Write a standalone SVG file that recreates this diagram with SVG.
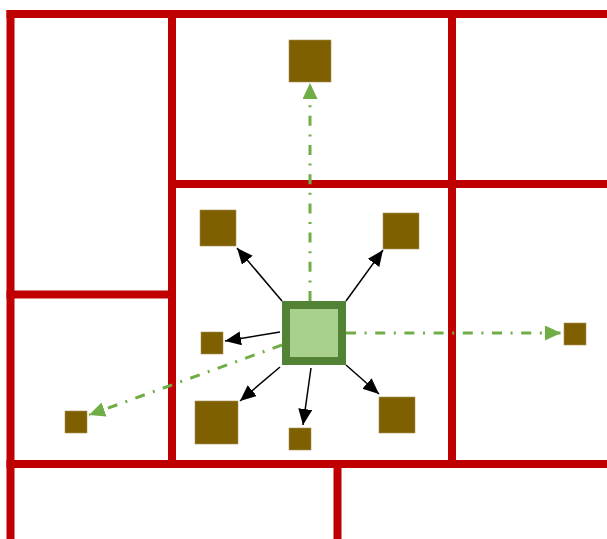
<svg xmlns="http://www.w3.org/2000/svg" width="607" height="539" viewBox="0 0 607 539">
  <style>
    .wall { fill: #C00000; }
    .item { fill: #7F6000; stroke: #A89256; stroke-width: 0.6; }
    .center { fill: #A9D18E; stroke: #548235; stroke-width: 8; }
    .arrow { stroke: #000000; stroke-width: 1.5; fill: none; marker-end: url(#blk); }
    .jump { stroke: #70AD47; stroke-width: 3; fill: none; stroke-dasharray: 10 8.6 2 8.6; marker-end: url(#grn); }
  </style>
  <defs>
    <marker id="blk" markerUnits="userSpaceOnUse" markerWidth="18" markerHeight="16" refX="16" refY="7" orient="auto">
      <path d="M0,0 L16,7 L0,14 Z" fill="#000000"/>
    </marker>
    <marker id="grn" markerUnits="userSpaceOnUse" markerWidth="18" markerHeight="16" refX="16" refY="7.5" orient="auto">
      <path d="M0,0 L16,7.5 L0,15 Z" fill="#70AD47"/>
    </marker>
  </defs>
  <rect width="607" height="539" fill="#FFFFFF"/>
  <g id="grid">
    <rect class="wall" x="6.5" y="10" width="601" height="8"/>
    <rect class="wall" x="6.5" y="10" width="8" height="529"/>
    <rect class="wall" x="168" y="10" width="8" height="458"/>
    <rect class="wall" x="448" y="10" width="8" height="458"/>
    <rect class="wall" x="168" y="180" width="439" height="8"/>
    <rect class="wall" x="6.5" y="290.5" width="169.5" height="8"/>
    <rect class="wall" x="6.5" y="460" width="601" height="8"/>
    <rect class="wall" x="333.5" y="460" width="8" height="79"/>
  </g>
  <g id="connectors">
    <line class="arrow" x1="282" y1="301" x2="237" y2="248"/>
    <line class="arrow" x1="346" y1="301" x2="383" y2="250"/>
    <line class="arrow" x1="280" y1="332" x2="225" y2="341"/>
    <line class="arrow" x1="280" y1="367" x2="240" y2="401"/>
    <line class="arrow" x1="311" y1="368" x2="303" y2="425"/>
    <line class="arrow" x1="346" y1="365" x2="379" y2="394"/>
    <line class="jump" x1="310" y1="301" x2="310" y2="83"/>
    <line class="jump" x1="346" y1="333" x2="561" y2="333"/>
    <line class="jump" x1="282" y1="345" x2="89" y2="415"/>
  </g>
  <g id="node-center"><rect class="center" x="286" y="305" width="56" height="56"/></g>
  <g id="node-top"><rect class="item" x="289" y="40" width="42" height="42"/></g>
  <g id="node-top-left"><rect class="item" x="200" y="210" width="36" height="36"/></g>
  <g id="node-top-right"><rect class="item" x="383" y="213" width="36" height="36"/></g>
  <g id="node-left"><rect class="item" x="201" y="332" width="22" height="22"/></g>
  <g id="node-bottom-left"><rect class="item" x="195" y="401" width="43" height="43"/></g>
  <g id="node-bottom"><rect class="item" x="289" y="428" width="22" height="22"/></g>
  <g id="node-bottom-right"><rect class="item" x="379" y="397" width="36" height="36"/></g>
  <g id="node-right"><rect class="item" x="564" y="323" width="22" height="22"/></g>
  <g id="node-far-left"><rect class="item" x="65" y="411" width="22" height="22"/></g>
</svg>
